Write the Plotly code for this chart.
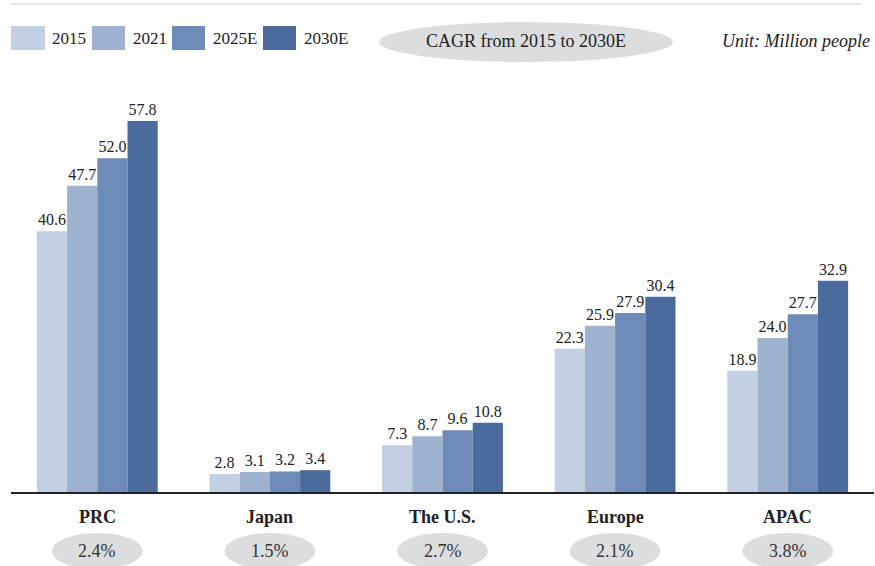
import plotly.graph_objects as go

categories = ["PRC", "Japan", "The U.S.", "Europe", "APAC"]
series_names = ["2015", "2021", "2025E", "2030E"]
v2015 = [40.6, 2.8, 7.3, 22.3, 18.9]
v2021 = [47.7, 3.1, 8.7, 25.9, 24.0]
v2025 = [52.0, 3.2, 9.6, 27.9, 27.7]
v2030 = [57.8, 3.4, 10.8, 30.4, 32.9]
cagr = ["2.4%", "1.5%", "2.7%", "2.1%", "3.8%"]
colors = ["#c3cfe3", "#9eb1cf", "#6e8bb8", "#4a6b9c"]

W, H = 875, 566
ML, MR, MT, MB = 11, 1, 80, 74
PW = W - ML - MR
PH = H - MT - MB
FONT = "Liberation Serif"

def xp(px):
    return (px - ML) / PW

def yp(py):
    return (H - MB - py) / PH

fig = go.Figure()
for name, vals, col in zip(series_names, [v2015, v2021, v2025, v2030], colors):
    fig.add_trace(go.Bar(
        x=categories, y=vals, name=name, marker=dict(color=col, line=dict(width=0)),
        texttemplate="%{y:.1f}", textposition="outside", cliponaxis=False,
        textfont=dict(family=FONT, size=16, color="#222222"),
    ))

shapes = []
annotations = []
n = len(categories)
for i, (c, g) in enumerate(zip(categories, cagr)):
    cx = (i + 0.5) / n
    annotations.append(dict(x=cx, y=yp(517), xref="paper", yref="paper", text="<b>%s</b>" % c,
                            showarrow=False, font=dict(family=FONT, size=18, color="#222222"),
                            xanchor="center", yanchor="middle"))
    hw = 45.5 / PW
    shapes.append(dict(type="circle", xref="paper", yref="paper", x0=cx - hw, x1=cx + hw,
                       y0=yp(569), y1=yp(533), fillcolor="#dcdddf", line=dict(width=0), layer="below"))
    annotations.append(dict(x=cx, y=yp(551), xref="paper", yref="paper", text=g,
                            showarrow=False, font=dict(family=FONT, size=18, color="#333333"),
                            xanchor="center", yanchor="middle"))

# legend
sq = [(11, 45), (92, 125), (172, 205), (263, 296)]
tx = [50, 131, 211, 302]
for (a, b), t, name, col in zip(sq, tx, series_names, colors):
    shapes.append(dict(type="rect", xref="paper", yref="paper", x0=xp(a), x1=xp(b),
                       y0=yp(50), y1=yp(26), fillcolor=col, line=dict(width=0)))
    annotations.append(dict(x=xp(t), y=yp(39), xref="paper", yref="paper", text=name,
                            showarrow=False, font=dict(family=FONT, size=17, color="#222222"),
                            xanchor="left", yanchor="middle"))

shapes.append(dict(type="circle", xref="paper", yref="paper", x0=xp(379), x1=xp(673),
                   y0=yp(62), y1=yp(22), fillcolor="#dcdddf", line=dict(width=0), layer="below"))
annotations.append(dict(x=xp(526), y=yp(41), xref="paper", yref="paper",
                        text="CAGR from 2015 to 2030E", showarrow=False,
                        font=dict(family=FONT, size=18, color="#222222"),
                        xanchor="center", yanchor="middle"))
annotations.append(dict(x=xp(872), y=yp(41), xref="paper", yref="paper",
                        text="<i>Unit: Million people</i>", showarrow=False,
                        font=dict(family=FONT, size=18, color="#222222"),
                        xanchor="right", yanchor="middle"))
shapes.append(dict(type="line", xref="paper", yref="paper", x0=xp(10), x1=xp(862),
                   y0=yp(4), y1=yp(4), line=dict(color="#e6e6e6", width=2)))

fig.update_layout(
    width=W, height=H, margin=dict(l=ML, r=MR, t=MT, b=MB),
    barmode="group", bargap=0.30, bargroupgap=0,
    showlegend=False, plot_bgcolor="white", paper_bgcolor="white",
    xaxis=dict(showline=True, linecolor="#222222", linewidth=1.5, showticklabels=False,
               ticks="", showgrid=False, zeroline=False, fixedrange=True),
    yaxis=dict(range=[0, PH / 6.42], visible=False, showgrid=False, zeroline=False),
    shapes=shapes, annotations=annotations,
    font=dict(family=FONT),
)
fig.write_html("out.html", config={"displayModeBar": False},
               post_script="document.body.style.margin='0px';document.body.style.overflow='hidden';")
